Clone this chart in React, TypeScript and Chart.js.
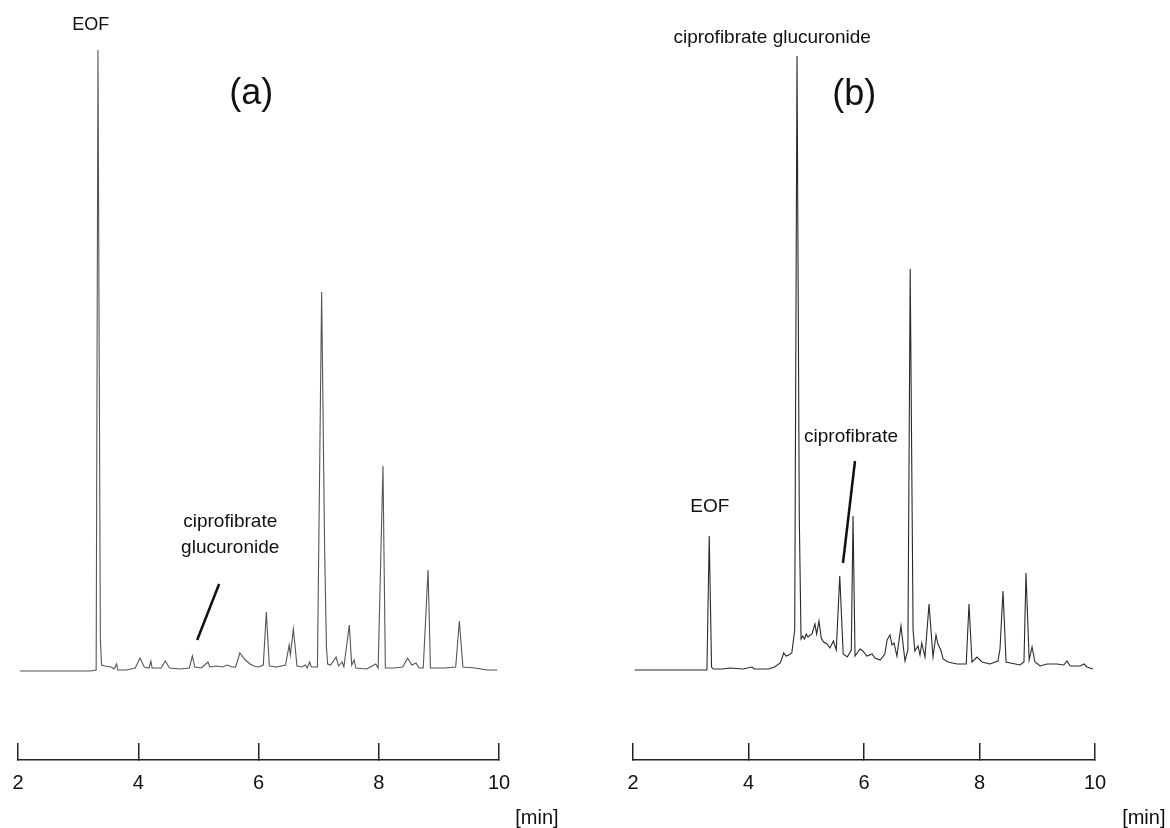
import React, { useEffect, useRef } from "react";
import { Chart, registerables } from "chart.js";

Chart.register(...registerables);

const FONT = '"Liberation Sans", Arial, sans-serif';

// time axis ticks [min]
const timeTicks = [2, 4, 6, 8, 10];

// Electropherogram (a): [time min, signal]
const traceA: [number, number][] = [
  [2.03, -1], [3.2, -1], [3.3, 0], [3.33, 620], [3.37, 30], [3.39, 5], [3.45, 4], [3.55, 3],
  [3.6, 1], [3.64, 6], [3.66, 0], [3.8, 0], [3.95, 2], [4.03, 12], [4.1, 3], [4.18, 2],
  [4.21, 9], [4.23, 2], [4.38, 2], [4.45, 9], [4.52, 2], [4.7, 1], [4.85, 2], [4.9, 14],
  [4.94, 3], [5.05, 2], [5.16, 8], [5.19, 3], [5.3, 4], [5.4, 3], [5.48, 5], [5.56, 3],
  [5.62, 3], [5.69, 17], [5.78, 10], [5.86, 6], [5.92, 4], [6.0, 3], [6.08, 5], [6.13, 58],
  [6.18, 4], [6.3, 3], [6.45, 5], [6.51, 25], [6.53, 15], [6.58, 41], [6.64, 4], [6.72, 3],
  [6.78, 5], [6.81, 2], [6.85, 8], [6.88, 3], [6.98, 3], [7.05, 378], [7.1, 120], [7.13, 23],
  [7.15, 6], [7.2, 5], [7.29, 13], [7.33, 4], [7.39, 8], [7.42, 3], [7.51, 45], [7.55, 5],
  [7.59, 10], [7.62, 2], [7.8, 1], [7.95, 6], [7.99, 2], [8.07, 204], [8.11, 2], [8.25, 2],
  [8.4, 3], [8.48, 12], [8.55, 5], [8.62, 7], [8.67, 2], [8.74, 2], [8.82, 100], [8.86, 2],
  [9.1, 2], [9.28, 3], [9.34, 49], [9.4, 3], [9.6, 2], [9.8, 0], [9.97, 0],
];

// Electropherogram (b): [time min, signal]
const traceB: [number, number][] = [
  [2.03, 0], [2.5, 0], [3.0, 0], [3.28, 0], [3.32, 134], [3.36, 3], [3.39, 1], [3.55, 1],
  [3.68, 2], [3.9, 1], [4.06, 3], [4.1, 1], [4.35, 1], [4.45, 3], [4.55, 7], [4.61, 17],
  [4.65, 14], [4.7, 15], [4.75, 17], [4.8, 40], [4.84, 614], [4.88, 150], [4.91, 31],
  [4.94, 34], [4.97, 31], [5.0, 36], [5.03, 33], [5.1, 36], [5.15, 46], [5.18, 36],
  [5.22, 49], [5.26, 32], [5.3, 28], [5.36, 26], [5.41, 22], [5.47, 29], [5.52, 20],
  [5.58, 94], [5.64, 16], [5.71, 13], [5.78, 20], [5.81, 154], [5.845, 14], [5.93, 21],
  [5.98, 19], [6.05, 14], [6.14, 16], [6.19, 12], [6.28, 10], [6.36, 16], [6.4, 30],
  [6.45, 35], [6.485, 25], [6.52, 27], [6.57, 14], [6.64, 44], [6.71, 9], [6.76, 20],
  [6.8, 401], [6.85, 40], [6.88, 19], [6.935, 24], [6.97, 15], [7.0, 27], [7.056, 13],
  [7.126, 66], [7.195, 13], [7.247, 35], [7.28, 26], [7.33, 20], [7.37, 11], [7.455, 8],
  [7.61, 6], [7.77, 6], [7.818, 66], [7.87, 8], [7.957, 13], [8.043, 8], [8.18, 6],
  [8.32, 9], [8.355, 21], [8.407, 79], [8.46, 8], [8.7, 5], [8.77, 8], [8.805, 97],
  [8.86, 10], [8.91, 23], [8.96, 8], [9.05, 4], [9.17, 6], [9.34, 6], [9.46, 5],
  [9.515, 9], [9.57, 4], [9.74, 4], [9.81, 6], [9.86, 3], [9.965, 1],
];

type TextNote = { text: string; t: number; v: number; size: number; align?: CanvasTextAlign };
type LineNote = { t1: number; v1: number; t2: number; v2: number };

const notesA: { texts: TextNote[]; lines: LineNote[] } = {
  texts: [
    { text: "EOF", t: 3.21, v: 645, size: 18 },
    { text: "(a)", t: 5.88, v: 576, size: 36 },
    { text: "ciprofibrate", t: 5.53, v: 148, size: 19 },
    { text: "glucuronide", t: 5.53, v: 122, size: 19 },
    { text: "[min]", t: 10.27, v: -148, size: 20, align: "left" },
  ],
  lines: [{ t1: 5.345, v1: 86, t2: 4.98, v2: 30 }],
};

const notesB: { texts: TextNote[]; lines: LineNote[] } = {
  texts: [
    { text: "ciprofibrate glucuronide", t: 4.41, v: 632, size: 19 },
    { text: "(b)", t: 5.83, v: 575, size: 36 },
    { text: "EOF", t: 3.33, v: 163, size: 19 },
    { text: "ciprofibrate", t: 5.775, v: 233, size: 19 },
    { text: "[min]", t: 10.47, v: -148, size: 20, align: "left" },
  ],
  lines: [{ t1: 5.844, v1: 209, t2: 5.636, v2: 107 }],
};

function makeNotesPlugin(notes: { texts: TextNote[]; lines: LineNote[] }) {
  return {
    id: "notes",
    afterDraw(chart: any) {
      const { ctx } = chart;
      const x = chart.scales.x;
      const y = chart.scales.y;
      ctx.save();
      ctx.fillStyle = "#111";
      ctx.textBaseline = "middle";
      for (const n of notes.texts) {
        ctx.font = `${n.size}px ${FONT}`;
        ctx.textAlign = n.align ?? "center";
        ctx.fillText(n.text, x.getPixelForValue(n.t), y.getPixelForValue(n.v));
      }
      ctx.strokeStyle = "#111";
      ctx.lineWidth = 2.5;
      for (const l of notes.lines) {
        ctx.beginPath();
        ctx.moveTo(x.getPixelForValue(l.t1), y.getPixelForValue(l.v1));
        ctx.lineTo(x.getPixelForValue(l.t2), y.getPixelForValue(l.v2));
        ctx.stroke();
      }
      ctx.restore();
    },
  };
}

function Panel({
  trace,
  notes,
  left,
  width,
  padRight,
  color,
}: {
  trace: [number, number][];
  notes: { texts: TextNote[]; lines: LineNote[] };
  left: number;
  width: number;
  padRight: number;
  color: string;
}) {
  const ref = useRef<HTMLCanvasElement>(null);
  useEffect(() => {
    if (!ref.current) return;
    const chart = new Chart(ref.current, {
      type: "line",
      data: {
        datasets: [
          {
            data: trace.map(([t, v]) => ({ x: t, y: v })),
            borderColor: color,
            borderWidth: 1.1,
            pointRadius: 0,
            tension: 0,
            fill: false,
          },
        ],
      },
      options: {
        animation: false,
        responsive: false,
        events: [],
        layout: { padding: { left: 48, right: padRight, top: 40, bottom: 5 } },
        plugins: { legend: { display: false }, tooltip: { enabled: false } },
        scales: {
          x: {
            type: "linear",
            min: 2,
            max: 10,
            afterBuildTicks: (s: any) => {
              s.ticks = timeTicks.map((v) => ({ value: v }));
            },
            grid: {
              drawOnChartArea: false,
              drawTicks: true,
              tickLength: -17,
              color: "#222",
              lineWidth: 1.5,
            },
            border: { display: true, color: "#222", width: 1.5 },
            ticks: {
              padding: 28,
              color: "#111",
              font: { family: FONT, size: 20 },
              maxRotation: 0,
            },
          },
          y: { display: false, min: -90, max: 630 },
        },
      },
      plugins: [makeNotesPlugin(notes)],
    });
    return () => chart.destroy();
  }, []);
  return (
    <canvas
      ref={ref}
      width={width}
      height={828}
      style={{ position: "absolute", left, top: 0, width, height: 828, display: "block" }}
    />
  );
}

export default function App() {
  return (
    <div
      style={{
        position: "absolute",
        left: 0,
        top: 0,
        width: 1170,
        height: 828,
        background: "#fff",
        overflow: "hidden",
      }}
    >
      <Panel trace={traceA} notes={notesA} left={-30} width={615} padRight={86} color="#555" />
      <Panel trace={traceB} notes={notesB} left={585} width={585} padRight={75} color="#2a2a2a" />
    </div>
  );
}
